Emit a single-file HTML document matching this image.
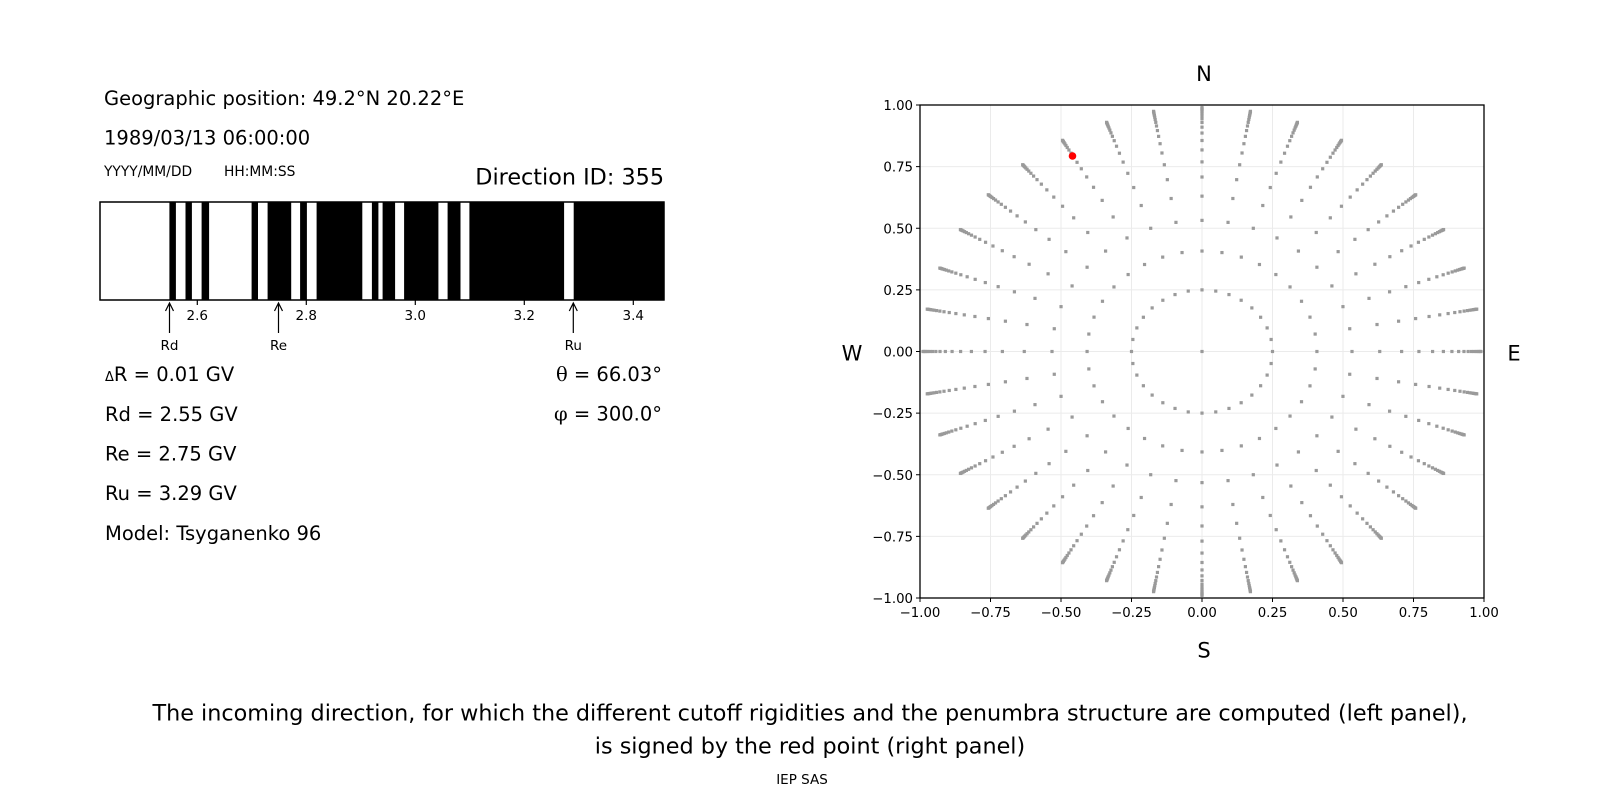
<!DOCTYPE html>
<html><head><meta charset="utf-8"><style>
html,body{margin:0;padding:0;background:#fff;}
svg{display:block;font-family:"DejaVu Sans","Liberation Sans",sans-serif;}
</style></head><body>
<svg id="s" width="1600" height="800" viewBox="0 0 1600 800" xmlns="http://www.w3.org/2000/svg">
<rect width="1600" height="800" fill="#fff"/>
<g font-size="19.5" fill="#000">
<text x="104" y="105">Geographic position: 49.2°N 20.22°E</text>
<text x="104" y="144.5">1989/03/13 06:00:00</text>
<text x="104" y="176" font-size="13.8">YYYY/MM/DD</text>
<text x="224" y="176" font-size="13.8">HH:MM:SS</text>
<text x="664" y="184.5" font-size="22.3" text-anchor="end">Direction ID: 355</text>
</g>
<g id="bar">
<rect x="100" y="202" width="564" height="98" fill="#fff" stroke="#000" stroke-width="1.3"/>
</g>
<g font-size="13.5" fill="#000" text-anchor="middle">
<text x="197.3" y="320">2.6</text>
<text x="306.3" y="320">2.8</text>
<text x="415.3" y="320">3.0</text>
<text x="524.3" y="320">3.2</text>
<text x="633.3" y="320">3.4</text>
<text x="169.5" y="350">Rd</text>
<text x="278.5" y="350">Re</text>
<text x="573.3" y="350">Ru</text>
</g>
<g stroke="#000" stroke-width="1.2" fill="none">
<line x1="197.3" y1="300" x2="197.3" y2="305"/><line x1="306.3" y1="300" x2="306.3" y2="305"/><line x1="415.3" y1="300" x2="415.3" y2="305"/><line x1="524.3" y1="300" x2="524.3" y2="305"/><line x1="633.3" y1="300" x2="633.3" y2="305"/>
<path d="M169.5 333V304M165.5 311L169.5 303L173.5 311"/>
<path d="M278.5 333V304M274.5 311L278.5 303L282.5 311"/>
<path d="M573.3 333V304M569.3 311L573.3 303L577.3 311"/>
</g>
<g font-size="19.5" fill="#000">
<text x="105" y="381"><tspan font-size="13">Δ</tspan>R = 0.01 GV</text>
<text x="105" y="421">Rd = 2.55 GV</text>
<text x="105" y="460.5">Re = 2.75 GV</text>
<text x="105" y="500">Ru = 3.29 GV</text>
<text x="105" y="540">Model: Tsyganenko 96</text>
<text x="662" y="381" text-anchor="end"><tspan font-family="'DejaVu Serif',serif">θ</tspan> = 66.03°</text>
<text x="662" y="420.5" text-anchor="end"><tspan font-family="'DejaVu Serif',serif">φ</tspan> = 300.0°</text>
</g>
<g id="grid" stroke="#ebebeb" stroke-width="1"></g>
<g id="dots" fill="#9a9a9a"></g>
<circle cx="1072.5" cy="156" r="3.8" fill="#ff0000"/>
<rect x="920" y="105" width="564" height="493" fill="none" stroke="#000" stroke-width="1.3"/>
<g id="ticks" font-size="13.3" fill="#000"></g>
<g font-size="21" fill="#000" text-anchor="middle">
<text x="1204" y="81">N</text>
<text x="1204" y="657.5">S</text>
<text x="852" y="360.5">W</text>
<text x="1514" y="360.5">E</text>
</g>
<g font-size="22.3" fill="#000" text-anchor="middle">
<text x="810" y="720.5">The incoming direction, for which the different cutoff rigidities and the penumbra structure are computed (left panel),</text>
<text x="810" y="753.5">is signed by the red point (right panel)</text>
<text x="802" y="784" font-size="13.5">IEP SAS</text>
</g>
</svg>
<script>
var NS="http://www.w3.org/2000/svg";
function el(t,a,p){var e=document.createElementNS(NS,t);for(var k in a)e.setAttribute(k,a[k]);p.appendChild(e);return e;}
var bar=document.getElementById("bar");
var segs=[[169.4,175.9],[185.5,191.9],[201.6,209.1],[251.6,258],[267.6,291.2],[300.1,306.9],[316.6,362.3],[371.9,378.4],[382.6,395.1],[404.1,438.4],[447.6,460.5],[469.4,564.1],[573.7,664]];
segs.forEach(function(s){el("rect",{x:s[0],y:202,width:s[1]-s[0],height:98,fill:"#000"},bar);});
el("rect",{x:100,y:202,width:564,height:98,fill:"none",stroke:"#000","stroke-width":1.3},bar);
var L=920,R=1484,T=105,B=598,cx=(L+R)/2,cy=(T+B)/2,rx=(R-L)/2,ry=(B-T)/2;
var g=document.getElementById("grid"),tk=document.getElementById("ticks");
for(var i=0;i<=8;i++){var v=-1+i*0.25;var x=L+i*(R-L)/8,y=B-i*(B-T)/8;
 el("line",{x1:x,y1:T,x2:x,y2:B},g);el("line",{x1:L,y1:y,x2:R,y2:y},g);
 var lab=(v<0?"\u2212":"")+Math.abs(v).toFixed(2);
 el("line",{x1:x,y1:B,x2:x,y2:B+4,stroke:"#000"},tk);el("line",{x1:L-4,y1:y,x2:L,y2:y,stroke:"#000"},tk);
 var t1=el("text",{x:x,y:B+19,"text-anchor":"middle"},tk);t1.textContent=lab;
 var t2=el("text",{x:L-7,y:y+5,"text-anchor":"end"},tk);t2.textContent=lab;}
var d=document.getElementById("dots");
function dot(r,a){var x=cx+r*Math.sin(a)*rx,y=cy-r*Math.cos(a)*ry;el("rect",{x:x-1.6,y:y-1.6,width:3.2,height:3.2},d);}
dot(0,0);
for(var j=0;j<32;j++)dot(0.25,j*Math.PI*2/32);
for(var k=1;k<=18;k++){var r=1-0.75*Math.pow(0.79,k);
 for(var j=0;j<36;j++)dot(r,j*Math.PI/18);}
</script>
</body></html>
